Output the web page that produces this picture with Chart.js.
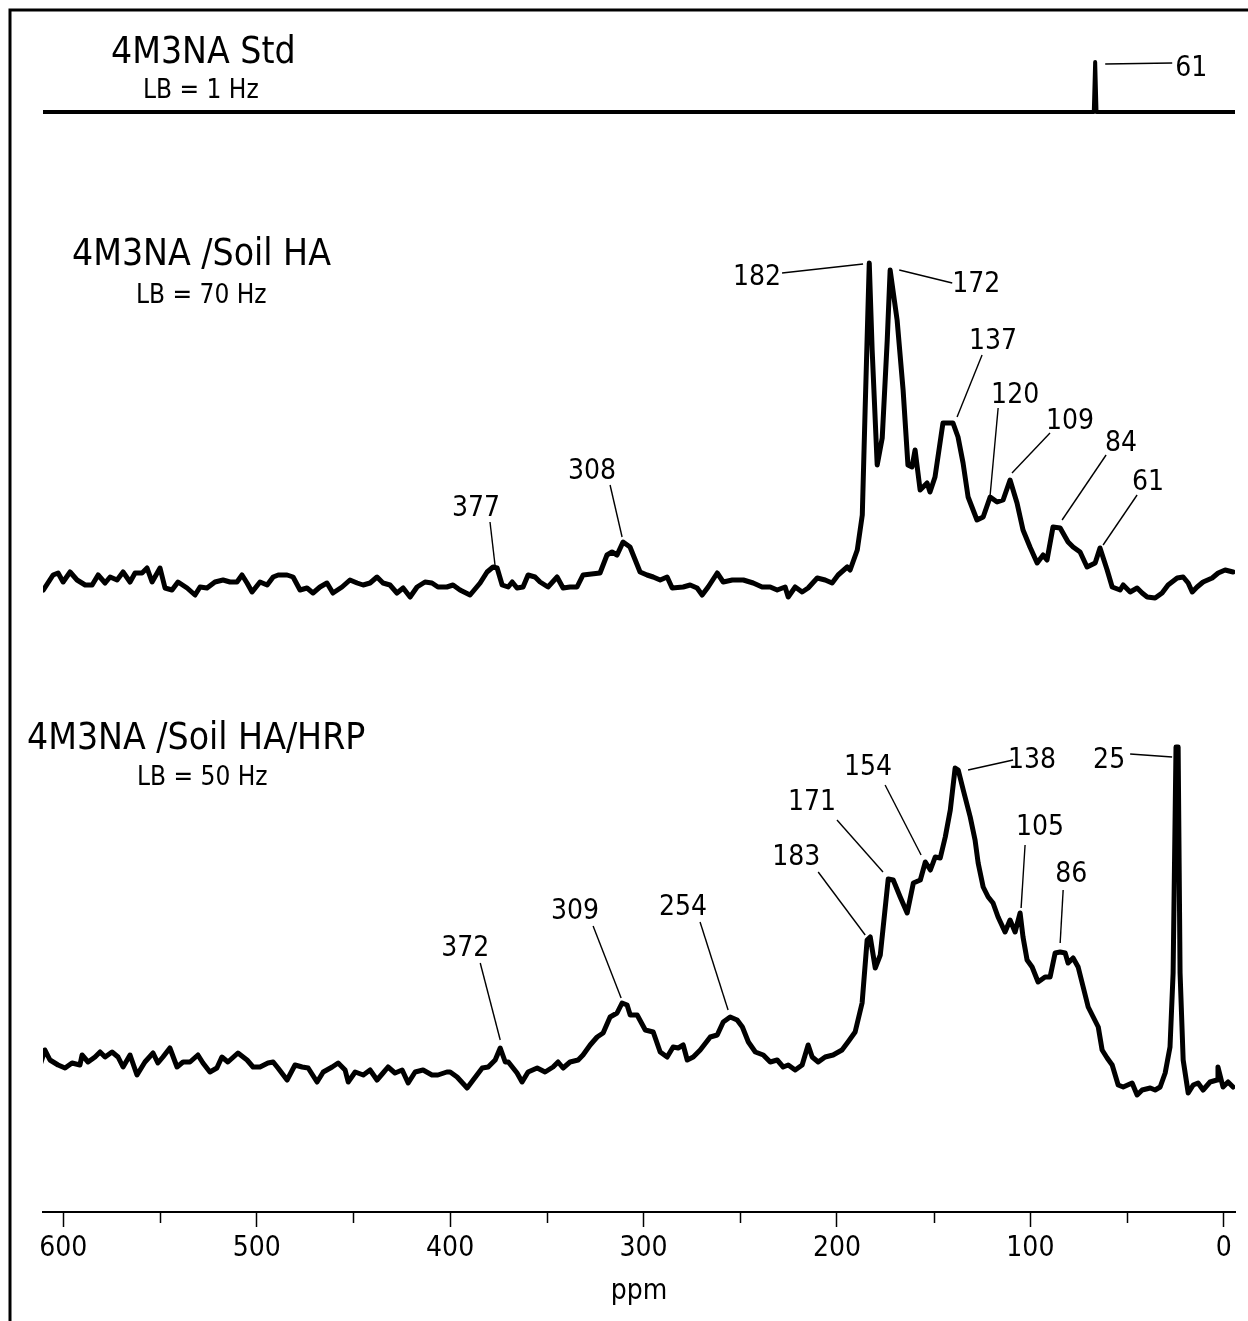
<!DOCTYPE html>
<html>
<head>
<meta charset="utf-8">
<script src="https://cdn.jsdelivr.net/npm/chart.js@4.4.1/dist/chart.umd.min.js"></script>
<style>
  html, body { margin: 0; padding: 0; background: #fff; }
  canvas { display: block; }
</style>
</head>
<body>
<canvas id="nmr" width="1248" height="1321" style="width:1248px;height:1321px"></canvas>
<script>
// 13C NMR 谱图 - 三条谱线叠放
const FONT = '"Liberation Sans Narrow", "DejaVu Sans Condensed", "Arial Narrow", sans-serif';

// x 轴刻度 (ppm)
const majorTicks = [600, 500, 400, 300, 200, 100, 0];
const minorTicks = [550, 450, 350, 250, 150, 50];

// 谱线基线偏移
const offsets = { std: 1100, soil: 612, hrp: 112 };

// 4M3NA Std, LB = 1 Hz  [ppm, 强度]
const stdSpectrum = [[610.5, 0], [67.2, 0], [66.5, 50], [65.8, 0], [-5.8, 0]];

// 4M3NA /Soil HA, LB = 70 Hz
const soilSpectrum = [
  [610.3, 10], [605.3, 25], [602.7, 27], [600.1, 18], [596.5, 28], [592.9, 20], [588.7, 15], [585.1, 15],
  [582.0, 25], [578.4, 17], [575.8, 23], [572.2, 20], [569.1, 28], [565.5, 18], [562.9, 27], [559.3, 27],
  [556.7, 32], [554.1, 18], [550.0, 32], [547.4, 12], [543.8, 10], [540.7, 18], [536.0, 12], [531.9, 5],
  [529.3, 13], [525.7, 12], [521.6, 18], [517.4, 20], [513.8, 18], [510.2, 18], [507.6, 25], [505.0, 17],
  [502.4, 8], [498.3, 18], [494.6, 15], [491.5, 23], [488.9, 25], [484.3, 25], [481.2, 23], [477.6, 10],
  [474.0, 12], [470.9, 7], [467.3, 13], [463.7, 17], [460.6, 7], [455.9, 13], [451.8, 20], [448.1, 17],
  [445.0, 15], [441.4, 17], [437.8, 23], [434.7, 17], [431.1, 15], [427.5, 7], [424.3, 12], [420.7, 3],
  [417.1, 13], [413.0, 18], [409.4, 17], [406.3, 13], [401.7, 13], [398.5, 15], [394.9, 10], [389.7, 5],
  [384.5, 17], [380.9, 28], [377.8, 33], [375.7, 32], [373.1, 15], [370.0, 13], [367.9, 18], [365.4, 12],
  [362.3, 13], [359.7, 25], [356.1, 23], [353.5, 18], [349.4, 13], [344.7, 23], [341.6, 12], [338.0, 13],
  [334.4, 13], [331.3, 25], [322.5, 27], [318.9, 45], [316.3, 48], [313.7, 45], [310.6, 58], [307.0, 53],
  [301.8, 28], [298.2, 25], [295.0, 23], [291.4, 20], [287.8, 23], [285.2, 12], [279.5, 13], [275.9, 15],
  [272.3, 12], [269.7, 5], [266.6, 13], [261.9, 27], [258.8, 18], [254.1, 20], [248.4, 20], [243.3, 17],
  [238.7, 13], [234.5, 13], [230.9, 10], [226.8, 13], [225.2, 3], [221.6, 13], [218.0, 8], [214.9, 12],
  [210.2, 22], [206.1, 20], [202.5, 17], [199.4, 25], [194.7, 33], [193.2, 30], [189.5, 50], [186.9, 85],
  [185.4, 193], [183.3, 337], [181.8, 250], [179.2, 135], [176.6, 162], [174.0, 260], [172.5, 330], [168.9, 280],
  [165.8, 210], [163.3, 135], [161.2, 133], [159.6, 150], [157.0, 110], [153.4, 117], [151.9, 108], [149.3, 123],
  [145.2, 177], [140.0, 177], [137.4, 163], [134.8, 137], [132.2, 103], [127.6, 80], [124.4, 83], [120.8, 103],
  [117.2, 98], [114.1, 100], [110.5, 120], [106.9, 97], [103.8, 70], [100.2, 53], [96.5, 37], [93.4, 45],
  [91.4, 40], [88.3, 73], [84.6, 72], [80.5, 58], [77.9, 53], [74.3, 48], [70.7, 33], [66.5, 37],
  [64.0, 52], [60.3, 30], [57.7, 13], [53.6, 10], [52.0, 15], [48.4, 8], [44.8, 12], [42.2, 7],
  [39.6, 3], [35.5, 2], [31.9, 7], [28.8, 15], [24.1, 22], [21.0, 23], [18.4, 17], [16.3, 8],
  [13.8, 13], [10.7, 18], [6.0, 22], [2.9, 27], [-0.7, 30], [-4.8, 28]
];

// 4M3NA /Soil HA/HRP, LB = 50 Hz
const hrpSpectrum = [
  [612.0, 35], [609.5, 50], [606.9, 40], [602.7, 35], [599.1, 32], [595.5, 37], [591.4, 35], [590.3, 45],
  [587.2, 38], [583.6, 43], [581.0, 48], [578.4, 43], [574.8, 48], [571.7, 43], [569.1, 33], [565.5, 45],
  [561.9, 25], [557.8, 38], [553.6, 47], [551.1, 37], [548.5, 43], [544.9, 52], [541.2, 33], [538.1, 38],
  [534.5, 38], [530.4, 45], [527.8, 37], [524.2, 28], [520.6, 32], [518.0, 43], [514.9, 38], [509.7, 47],
  [505.0, 40], [501.9, 33], [498.3, 33], [494.2, 37], [491.5, 38], [489.0, 32], [484.3, 20], [480.2, 35],
  [476.5, 33], [473.4, 32], [468.8, 18], [465.6, 28], [461.0, 33], [457.9, 37], [454.3, 30], [452.7, 18],
  [449.1, 28], [444.9, 25], [441.4, 30], [437.8, 20], [434.7, 27], [432.1, 33], [428.5, 27], [424.8, 30],
  [421.7, 17], [418.1, 28], [414.0, 30], [409.4, 25], [406.3, 25], [401.7, 28], [400.0, 28], [396.4, 23],
  [391.2, 12], [388.1, 20], [383.4, 32], [380.3, 33], [376.7, 40], [374.1, 52], [371.5, 38], [369.9, 38],
  [365.4, 27], [362.8, 18], [359.7, 28], [355.0, 32], [350.9, 28], [346.8, 33], [344.2, 38], [341.6, 32],
  [338.0, 38], [333.8, 40], [331.3, 45], [327.6, 55], [324.0, 63], [320.9, 67], [317.3, 83], [313.7, 87],
  [311.1, 97], [308.5, 95], [306.9, 85], [303.3, 85], [299.1, 70], [295.0, 68], [291.4, 48], [287.8, 43],
  [284.7, 53], [282.1, 52], [279.5, 55], [277.4, 40], [274.3, 43], [270.7, 50], [265.5, 63], [261.9, 65],
  [258.8, 78], [255.2, 83], [251.6, 80], [248.9, 73], [245.8, 58], [242.2, 48], [238.1, 45], [234.5, 38],
  [230.9, 40], [227.8, 33], [225.2, 35], [221.6, 30], [218.0, 35], [214.9, 55], [212.8, 43], [209.7, 38],
  [206.1, 43], [202.0, 45], [197.4, 50], [194.3, 58], [190.6, 68], [187.0, 97], [184.4, 160], [182.8, 163],
  [180.2, 132], [177.6, 145], [173.5, 221], [170.9, 220], [167.3, 203], [163.7, 187], [160.5, 217], [156.9, 220],
  [154.3, 238], [151.7, 230], [149.2, 243], [146.6, 242], [144.0, 263], [141.4, 290], [138.9, 332], [137.3, 330],
  [134.7, 310], [131.1, 283], [128.6, 260], [127.0, 237], [124.4, 213], [121.8, 203], [119.3, 197], [116.7, 183],
  [113.1, 168], [110.5, 180], [107.9, 168], [105.3, 187], [103.8, 163], [101.7, 140], [99.1, 133], [96.0, 118],
  [92.4, 123], [89.8, 123], [87.2, 147], [84.6, 148], [82.0, 147], [80.5, 137], [77.9, 142], [75.3, 133],
  [72.7, 113], [70.1, 93], [67.5, 83], [64.9, 73], [62.9, 50], [60.3, 42], [57.7, 35], [54.6, 15],
  [52.0, 13], [47.4, 17], [44.8, 5], [42.2, 10], [38.0, 12], [35.5, 10], [32.9, 13], [30.3, 27],
  [27.8, 53], [26.2, 127], [24.7, 353], [23.6, 353], [22.6, 127], [21.0, 40], [18.4, 7], [15.8, 15],
  [13.3, 17], [10.7, 10], [7.1, 18], [3.5, 20], [3.0, 33], [0.4, 13], [-2.2, 18], [-4.8, 13]
];

// 峰标注: 谱线, 文字, 指向点 ppm / 强度
const peakNotes = [
  ['std', '61', 61.3, 48], ['soil', '182', 186.5, 336], ['soil', '172', 167.8, 330],
  ['soil', '137', 137.9, 183], ['soil', '120', 120.8, 105], ['soil', '109', 109.5, 127],
  ['soil', '84', 83.6, 80], ['soil', '61', 62.4, 55], ['soil', '377', 376.8, 35],
  ['soil', '308', 311.1, 63], ['hrp', '372', 374.1, 60], ['hrp', '309', 311.6, 102],
  ['hrp', '254', 256.3, 90], ['hrp', '183', 185.4, 165], ['hrp', '171', 176.2, 228],
  ['hrp', '154', 156.5, 245], ['hrp', '138', 132.2, 330], ['hrp', '105', 104.8, 192],
  ['hrp', '86', 84.6, 157], ['hrp', '25', 26.7, 343]
];
// 标注文字与引线起点相对指向点的像素偏移 [dx, dy, sx, sy]
const noteOffsets = [
  [86, 4, 67, -1], [-106, 13, -81, 9], [77, 14, 53, 13],
  [36, -76, 25, -62], [25, -100, 8, -87], [58, -52, 38, -40],
  [59, -77, 44, -65], [45, -63, 34, -50], [-19, -57, -5, -43],
  [-30, -66, -12, -52], [-35, -92, -20, -77], [-46, -87, -28, -72],
  [-45, -103, -28, -88], [-69, -78, -47, -63], [-71, -70, -46, -52],
  [-53, -88, -36, -70], [64, -10, 45, -10], [19, -81, 4, -63],
  [11, -69, 3, -53], [-63, 3, -42, -3]
];

// 谱线名称
const titles = [
  ['4M3NA Std', 37, 111, 63], ['LB = 1 Hz', 26, 143, 98],
  ['4M3NA /Soil HA', 37, 72, 265], ['LB = 70 Hz', 26, 136, 303],
  ['4M3NA /Soil HA/HRP', 37, 27, 749], ['LB = 50 Hz', 26, 137, 785]
];

const toPoints = (arr, off) => arr.map(p => ({ x: p[0], y: off + p[1] }));

const decorPlugin = {
    id: 'decor',
    beforeDraw(chart) {
        const c = chart.ctx;
        c.save();
        c.fillStyle = '#fff';
        c.fillRect(0, 0, chart.width, chart.height);
        // 外框
        c.strokeStyle = '#000';
        c.lineWidth = 3;
        c.beginPath();
        c.moveTo(10, chart.height);
        c.lineTo(10, 10);
        c.lineTo(chart.width, 10);
        c.stroke();
        c.restore();
    },
    afterDraw(chart) {
        const c = chart.ctx;
        const xs = chart.scales.x, ys = chart.scales.y;
        c.save();
        c.fillStyle = '#000';
        c.strokeStyle = '#000';

        // 次刻度
        c.lineWidth = 1.5;
        minorTicks.forEach(v => {
            const px = Math.round(xs.getPixelForValue(v)) + 0.5;
            c.beginPath();
            c.moveTo(px, chart.chartArea.bottom);
            c.lineTo(px, chart.chartArea.bottom + 11);
            c.stroke();
        });

        // 标题
        c.textBaseline = 'alphabetic';
        c.textAlign = 'left';
        titles.forEach(([t, size, x, y]) => {
            c.font = size + 'px ' + FONT;
            c.fillText(t, x, y);
        });

        // 峰标注
        c.font = '28px ' + FONT;
        c.textAlign = 'center';
        c.textBaseline = 'middle';
        c.lineWidth = 1.4;
        peakNotes.forEach((n, i) => {
            const [dx, dy, sx, sy] = noteOffsets[i];
            const px = xs.getPixelForValue(n[2]);
            const py = ys.getPixelForValue(offsets[n[0]] + n[3]);
            c.beginPath();
            c.moveTo(px + sx, py + sy);
            c.lineTo(px, py);
            c.stroke();
            c.fillText(n[1], px + dx, py + dy + 1);
        });
        c.restore();
    }
};

const lineStyle = {
    borderColor: '#000',
    borderWidth: 5,
    pointRadius: 0,
    tension: 0,
    fill: false,
    borderJoinStyle: 'round',
    borderCapStyle: 'round'
};

new Chart(document.getElementById('nmr').getContext('2d'), {
    type: 'line',
    data: {
        datasets: [
            { label: '4M3NA Std', data: toPoints(stdSpectrum, offsets.std), ...lineStyle, borderWidth: 4 },
            { label: '4M3NA /Soil HA', data: toPoints(soilSpectrum, offsets.soil), ...lineStyle },
            { label: '4M3NA /Soil HA/HRP', data: toPoints(hrpSpectrum, offsets.hrp), ...lineStyle }
        ]
    },
    options: {
        responsive: false,
        animation: false,
        layout: { padding: { left: 43, right: 13, top: 10, bottom: 0 } },
        plugins: { legend: { display: false }, tooltip: { enabled: false } },
        scales: {
            x: {
                type: 'linear',
                reverse: true,
                min: -5.8,
                max: 610.5,
                afterBuildTicks(scale) {
                    scale.ticks = majorTicks.map(v => ({ value: v }));
                },
                afterFit(scale) { scale.height = 109; },
                border: { display: true, color: '#000', width: 2 },
                grid: { drawOnChartArea: false, drawTicks: true, tickLength: 15, tickColor: '#000', tickWidth: 1.5 },
                ticks: {
                    color: '#000',
                    padding: 5,
                    maxRotation: 0,
                    autoSkip: false,
                    font: { family: FONT, size: 28 },
                    callback: v => String(v)
                },
                title: {
                    display: true,
                    text: 'ppm',
                    color: '#000',
                    padding: { top: 0, bottom: 12 },
                    font: { family: FONT, size: 28 }
                }
            },
            y: { display: false, min: 0, max: 1202 }
        }
    },
    plugins: [decorPlugin]
});
</script>
</body>
</html>
